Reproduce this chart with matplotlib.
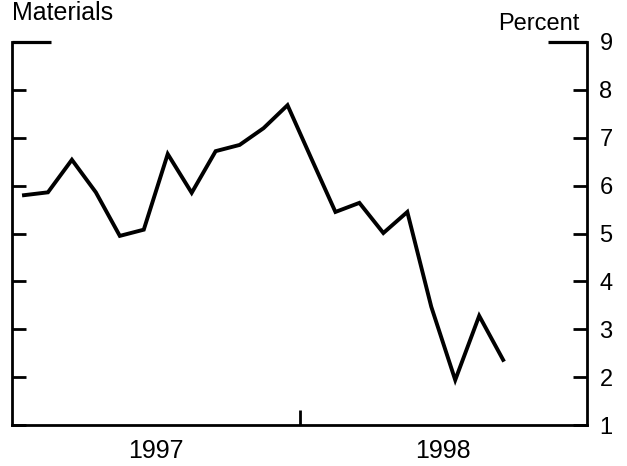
import matplotlib.pyplot as plt
from matplotlib.ticker import FixedLocator, NullFormatter

plt.rcParams['font.family'] = ['Liberation Sans', 'DejaVu Sans']

# monthly values, Jan 1997 - Sep 1998 (percent)
months = list(range(21))
materials = [5.80, 5.86, 6.54, 5.86, 4.95, 5.08, 6.66, 5.85, 6.72, 6.85, 7.20, 7.68,
             6.56, 5.45, 5.64, 5.01, 5.45, 3.47, 1.94, 3.28, 2.36]
years = ['1997', '1998']
year_centers = [5.5, 17.5]
year_break = [11.5]
y_ticks = [1, 2, 3, 4, 5, 6, 7, 8, 9]

fig = plt.figure(figsize=(6.27, 4.66), dpi=100)
ax = fig.add_axes([12 / 627, 41 / 466, 575 / 627, 383 / 466])

ax.plot(months, materials, color='black', lw=2.8, solid_joinstyle='miter')

ax.set_xlim(-0.5, 23.5)
ax.set_ylim(1, 9)

for s in ['left', 'right', 'bottom']:
    ax.spines[s].set_linewidth(2.0)
ax.spines['top'].set_visible(False)

# y axis: ticks on both sides, labels on the right
ax.yaxis.set_major_locator(FixedLocator(y_ticks[:-1]))
ax.tick_params(axis='y', which='major', direction='in', length=10, width=2.0,
               left=True, right=True, labelleft=False, labelright=True,
               labelsize=17, pad=9)
ax.yaxis.set_minor_locator(FixedLocator(y_ticks[-1:]))
ax.yaxis.set_minor_formatter(lambda v, p: '%d' % v)
ax.tick_params(axis='y', which='minor', direction='in', length=28, width=2.3,
               left=True, right=True, labelleft=False, labelright=True,
               labelsize=17, pad=9)

# x axis: tick at the year break, year labels centred in each year
ax.set_xticks(year_break)
ax.xaxis.set_major_formatter(NullFormatter())
ax.tick_params(axis='x', which='major', direction='in', length=11, width=2.0)
ax.set_xticks(year_centers, minor=True)
ax.set_xticklabels(years, minor=True)
ax.tick_params(axis='x', which='minor', length=0, labelsize=18, pad=10)

fig.text(12 / 627, 1 - 20 / 466, 'Materials', fontsize=18, ha='left', va='baseline')
fig.text(579 / 627, 1 - 30 / 466, 'Percent', fontsize=17, ha='right', va='baseline')

fig.savefig('out.png', dpi=100)
